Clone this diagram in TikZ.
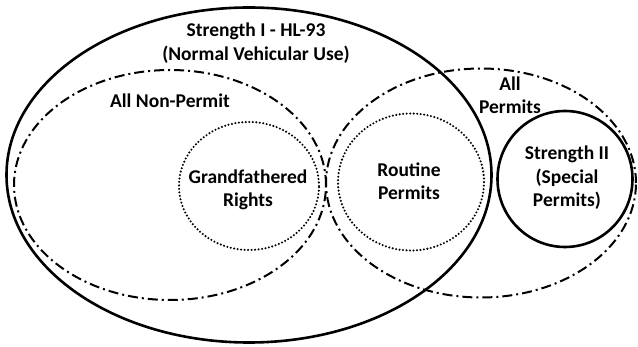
\documentclass[tikz,border=0pt]{standalone}
\usepackage{fontspec}
\setmainfont{Carlito}
\usetikzlibrary{shapes.geometric}

\begin{document}
\begin{tikzpicture}
[x=1pt,y=-1pt,
 set/.style={ellipse,draw=black,inner sep=0mm,outer sep=0mm},
 solidset/.style={set,line width=2.6pt},
 groupset/.style={set,line width=2pt,dash pattern=on 10pt off 4pt on 2pt off 4pt},
 subset/.style={set,line width=2.3pt,line cap=round,dash pattern=on 0pt off 3.5pt},
 lbl/.style={align=center,inner sep=0mm,font=\fontsize{19.5}{23.5}\selectfont\bfseries}]
\useasboundingbox (0,0) rectangle (638,347);

% sets
\node[solidset] (S1)  at (249,175) [minimum width=485pt,minimum height=335pt] {};
\node[groupset] (NP)  at (170,185) [minimum width=312pt,minimum height=230pt] {};
\node[groupset] (AP)  at (481,183) [minimum width=310pt,minimum height=229pt] {};
\node[subset]   (GR)  at (249,186) [minimum width=140pt,minimum height=128pt] {};
\node[subset]   (RP)  at (411,182) [minimum width=146pt,minimum height=137pt] {};
\node[solidset] (S2)  at (565,179) [minimum width=135pt,minimum height=136pt] {};

% labels
\node[lbl] (S1txt) at (256,43)  {Strength I - HL-93\\(Normal Vehicular Use)};
\node[lbl] (NPtxt) at (170,101) {All Non-Permit};
\node[lbl] (APtxt) at (510,95)  {All\\Permits};
\node[lbl] (GRtxt) at (248,190) {Grandfathered\\Rights};
\node[lbl] (RPtxt) at (409,181) {Routine\\Permits};
\node[lbl] (S2txt) at (567,178) {Strength II\\(Special\\Permits)};
\end{tikzpicture}
\end{document}
